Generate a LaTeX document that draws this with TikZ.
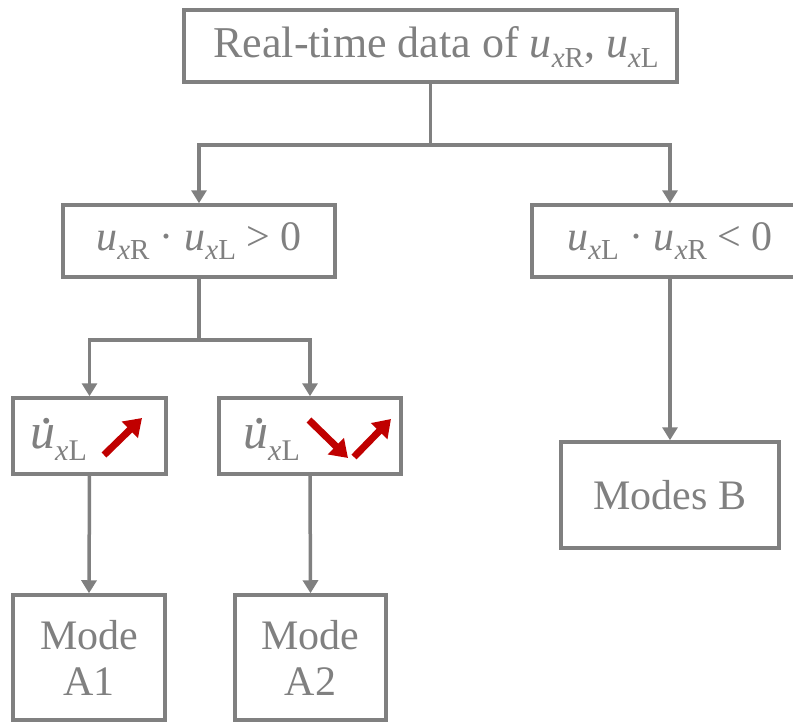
\documentclass[tikz,border=0pt]{standalone}
\usepackage{fontspec}
\setmainfont{Liberation Serif}
\newfontfamily\tnr{Liberation Serif}
\usetikzlibrary{arrows.meta}
\definecolor{lgray}{HTML}{808080}
\definecolor{dred}{HTML}{C00000}
\newcommand{\usub}[1]{\textit{u}\raisebox{-0.22em}{\fontsize{29}{29}\selectfont\textit{x}#1}}
\newcommand{\udsub}[1]{{\fontsize{50}{50}\selectfont\textit{u}\llap{\raisebox{0.5em}{.}\hspace{0.05em}}}\raisebox{-12pt}{\fontsize{30}{30}\selectfont\textit{x}#1}}
\begin{document}
\begin{tikzpicture}[x=1pt,y=-1pt,
  box/.style={draw=lgray, line width=3.5pt, fill=white, inner sep=0pt, text=lgray,
    font=\tnr\fontsize{42}{50}\selectfont, align=center},
  txt/.style={text=lgray, inner sep=0pt, font=\tnr\fontsize{42}{50}\selectfont},
  conn/.style={draw=lgray, line width=3.5pt},
  arr/.style={conn, -{Triangle[width=15pt,length=13pt]}},
  redarr/.style={draw=dred, line width=7pt, -{Triangle[width=22pt,length=17pt]}}]
\clip (0,0) rectangle (793,723);
\node[box, minimum width=493pt, minimum height=72pt] (top) at (430.5,46) {};
\node[txt, anchor=center, font=\tnr\fontsize{44}{50}\selectfont] (topt) at (436,47) {Real-time data of \usub{R}, \usub{L}};
\node[box, minimum width=272pt, minimum height=72pt] (L) at (199,241) {\usub{R} \textperiodcentered{} \usub{L} > 0};
\node[box, minimum width=276pt, minimum height=72pt] (R) at (670,241) {\usub{L} \textperiodcentered{} \usub{R} < 0};
\node[box, minimum width=153pt, minimum height=76pt] (D1) at (89.5,436) {};
\node[txt, anchor=base west] (d1t) at (30,448) {\udsub{L}};
\node[box, minimum width=182pt, minimum height=76pt] (D2) at (310,436) {};
\node[txt, anchor=base west] (d2t) at (243,448) {\udsub{L}};
\node[box, minimum width=152pt, minimum height=125pt] (M1) at (89,657.5) {Mode\\[-4pt]A1};
\node[box, minimum width=151pt, minimum height=125pt] (M2) at (310.5,657.5) {Mode\\[-4pt]A2};
\node[box, minimum width=218pt, minimum height=106pt] (B) at (670,495) {Modes B};
% connectors
\draw[conn] (top.south) -- ++(0,61) coordinate (j1);
\draw[arr] (j1) -| (L.north);
\draw[arr] (j1) -| (R.north);
\draw[conn] (L.south) -- ++(0,61) coordinate (j2);
\draw[arr] (j2) -| (D1.north);
\draw[arr] (j2) -| (D2.north);
\draw[arr] (D1.south) -- (M1.north);
\draw[arr] (D2.south) -- (M2.north);
\draw[arr] (R.south) -- (B.north);
% red trend arrows
\draw[redarr] (104,455) -- (142,418);
\draw[redarr] (309,420) -- (348,458);
\draw[redarr] (354,457) -- (391,419);
\end{tikzpicture}
\end{document}
